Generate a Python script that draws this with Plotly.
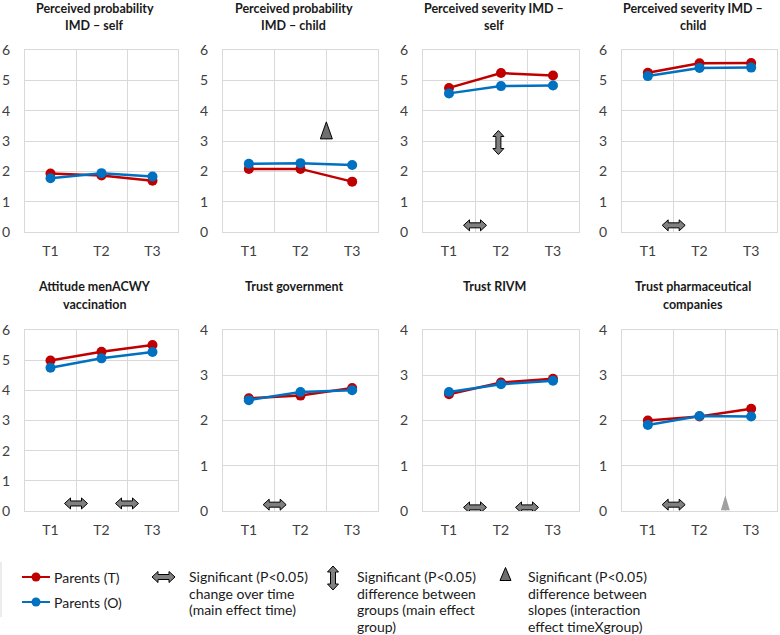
import plotly.graph_objects as go

# ---------------- data ----------------
titles = [
    ["Perceived probability", "IMD – self"],
    ["Perceived probability", "IMD – child"],
    ["Perceived severity IMD –", "self"],
    ["Perceived severity IMD –", "child"],
    ["Attitude menACWY", "vaccination"],
    ["Trust government"],
    ["Trust RIVM"],
    ["Trust pharmaceutical", "companies"],
]
times = ["T1", "T2", "T3"]
y_max = [6, 6, 6, 6, 6, 4, 4, 4]

parents_t = [
    [1.93, 1.86, 1.69],
    [2.08, 2.08, 1.66],
    [4.75, 5.24, 5.16],
    [5.25, 5.56, 5.57],
    [4.99, 5.28, 5.50],
    [2.49, 2.55, 2.72],
    [2.58, 2.84, 2.92],
    [2.00, 2.09, 2.26],
]
parents_o = [
    [1.77, 1.94, 1.83],
    [2.25, 2.27, 2.21],
    [4.57, 4.81, 4.83],
    [5.14, 5.41, 5.42],
    [4.75, 5.06, 5.27],
    [2.45, 2.63, 2.67],
    [2.63, 2.80, 2.88],
    [1.90, 2.10, 2.09],
]
series_names = ["Parents (T)", "Parents (O)"]

# significance markers: (panel, position on time axis, y value)
sig_time = [(2, 0.5, 0.22), (3, 0.5, 0.22), (4, 0.5, 0.25), (4, 1.5, 0.25),
            (5, 0.5, 0.14), (6, 0.5, 0.08), (6, 1.5, 0.08), (7, 0.5, 0.14)]
sig_group = [(2, 0.95, 2.95)]
sig_interaction = [(1, 1.5, 3.35)]
sig_interaction_faint = [(7, 1.5, 0.18)]

legend_notes = [
    ["Significant (P<0.05)", "change over time", "(main effect time)"],
    ["Significant (P<0.05)", "difference between", "groups (main effect", "group)"],
    ["Significant (P<0.05)", "difference between", "slopes (interaction", "effect timeXgroup)"],
]

# ---------------- layout geometry (pixels) ----------------
W, H = 780, 635
col_left = [25, 223, 423, 622]
col_right = [178, 378, 579, 777]
row_top = [50, 330]
row_bottom = [232, 511]
title_y = [8, 287]

RED = "#C00000"
BLUE = "#0070C0"
GRID = "#D9D9D9"
FONT = "Lato"
TXT = "#1a1a1a"


def px_x(p):
    return p / W


def px_y(p):
    return 1 - p / H


fig = go.Figure()
annotations = []
shapes = []
colors = [RED, BLUE]

for i in range(8):
    r, c = divmod(i, 4)
    sfx = "" if i == 0 else str(i + 1)
    xa, ya = "x" + sfx, "y" + sfx
    for name, vals, color in zip(series_names, [parents_t[i], parents_o[i]], colors):
        fig.add_trace(go.Scatter(
            x=[0, 1, 2], y=vals, mode="lines+markers", name=name,
            line=dict(color=color, width=2.5),
            marker=dict(color=color, size=10),
            xaxis=xa, yaxis=ya, showlegend=False,
        ))
    fig.layout["xaxis" + sfx] = dict(
        domain=[px_x(col_left[c]), px_x(col_right[c])],
        anchor=ya, range=[-0.5, 2.5],
        tickvals=[0, 1, 2], ticktext=times, showgrid=False,
        minor=dict(tickvals=[0.5, 1.5], showgrid=True, gridcolor=GRID, gridwidth=1),
        showline=True, mirror=True, linecolor=GRID, linewidth=1,
        zeroline=False, ticks="", fixedrange=True,
        tickfont=dict(family=FONT, size=14, color="#404040"),
        ticklabelstandoff=6,
    )
    fig.layout["yaxis" + sfx] = dict(
        domain=[px_y(row_bottom[r]), px_y(row_top[r])],
        anchor=xa, range=[0, y_max[i]], dtick=1,
        showgrid=True, gridcolor=GRID, gridwidth=1,
        showline=True, mirror=True, linecolor=GRID, linewidth=1,
        zeroline=False, ticks="", fixedrange=True,
        tickfont=dict(family=FONT, size=14, color="#404040"),
        ticklabelstandoff=11,
    )
    # title lines
    cx = (col_left[c] + col_right[c]) / 2 - 7
    for k, line in enumerate(titles[i]):
        annotations.append(dict(
            text="<b>" + line + "</b>", x=px_x(cx), y=px_y(title_y[r] + 17 * k),
            xref="paper", yref="paper", xanchor="center", yanchor="middle",
            showarrow=False, align="center",
            font=dict(family=FONT, size=12.5, color=TXT),
        ))

H_ARROW = "M-11.5,0 L-5.5,5.5 L-5.5,2.5 L5.5,2.5 L5.5,5.5 L11.5,0 L5.5,-5.5 L5.5,-2.5 L-5.5,-2.5 L-5.5,-5.5 Z"
V_ARROW = "M0,-12 L5.5,-6 L2.5,-6 L2.5,6 L5.5,6 L0,12 L-5.5,6 L-2.5,6 L-2.5,-6 L-5.5,-6 Z"
TRI = "M-6,-8.5 L6,-8.5 L0,8.5 Z"
TRI_FAINT = "M-4.5,-7.5 L4.5,-7.5 L0,7.5 Z"
TRI_LEGEND = "M-5.5,-6.5 L5.5,-6.5 L0,6.5 Z"


def axref(i):
    sfx = "" if i == 0 else str(i + 1)
    return "x" + sfx, "y" + sfx


def icon(xref, yref, xa, ya, path, fill, line_color, lw=1):
    return dict(type="path", xref=xref, yref=yref, xsizemode="pixel", ysizemode="pixel",
                xanchor=xa, yanchor=ya, path=path, fillcolor=fill,
                line=dict(color=line_color, width=lw), layer="above")


for p, xv, yv in sig_time:
    xr, yr = axref(p)
    shapes.append(icon(xr, yr, xv, yv, H_ARROW, "#808080", "#000000"))
for p, xv, yv in sig_group:
    xr, yr = axref(p)
    shapes.append(icon(xr, yr, xv, yv, V_ARROW, "#808080", "#000000"))
for p, xv, yv in sig_interaction:
    xr, yr = axref(p)
    shapes.append(icon(xr, yr, xv, yv, TRI, "#6E6E6E", "#000000"))
for p, xv, yv in sig_interaction_faint:
    xr, yr = axref(p)
    shapes.append(icon(xr, yr, xv, yv, TRI_FAINT, "#A0A0A0", "#A0A0A0", 0))

# ---------------- legend area ----------------
for k, (name, color) in enumerate(zip(series_names, colors)):
    ly = 577 + 25 * k
    shapes.append(dict(type="line", xref="paper", yref="paper",
                       x0=px_x(22), x1=px_x(50), y0=px_y(ly), y1=px_y(ly),
                       line=dict(color=color, width=2)))
    shapes.append(dict(type="circle", xref="paper", yref="paper",
                       xsizemode="pixel", ysizemode="pixel",
                       xanchor=px_x(36), yanchor=px_y(ly),
                       x0=-4.5, x1=4.5, y0=-4.5, y1=4.5,
                       fillcolor=color, line=dict(color=color, width=0)))
    annotations.append(dict(
        text=name, x=px_x(52), y=px_y(ly), xref="paper", yref="paper",
        xanchor="left", yanchor="middle", showarrow=False,
        font=dict(family=FONT, size=14, color=TXT),
    ))

shapes.append(icon("paper", "paper", px_x(163.5), px_y(577), H_ARROW, "#808080", "#000000"))
shapes.append(icon("paper", "paper", px_x(333), px_y(578), V_ARROW, "#808080", "#000000"))
shapes.append(icon("paper", "paper", px_x(505.5), px_y(574), TRI_LEGEND, "#6E6E6E", "#000000"))
shapes.append(dict(type="line", xref="paper", yref="paper",
                   x0=px_x(1), x1=px_x(1), y0=px_y(562), y1=px_y(617),
                   line=dict(color=GRID, width=1)))

note_x = [187, 355, 526]
for nx, lines in zip(note_x, legend_notes):
    for k, t in enumerate(lines):
        annotations.append(dict(
            text=t, x=px_x(nx), y=px_y(576.5 + 16.5 * k), xref="paper", yref="paper",
            xanchor="left", yanchor="middle", showarrow=False,
            font=dict(family=FONT, size=14, color=TXT),
        ))

fig.update_layout(
    width=W, height=H, autosize=False,
    margin=dict(l=0, r=0, t=0, b=0, pad=0, autoexpand=False),
    paper_bgcolor="white", plot_bgcolor="white",
    showlegend=False, hovermode=False,
    annotations=annotations, shapes=shapes,
)

fig.write_html(
    "out.html",
    config={"displayModeBar": False, "staticPlot": True},
    post_script="document.body.style.margin='0';document.body.style.overflow='hidden';",
)
